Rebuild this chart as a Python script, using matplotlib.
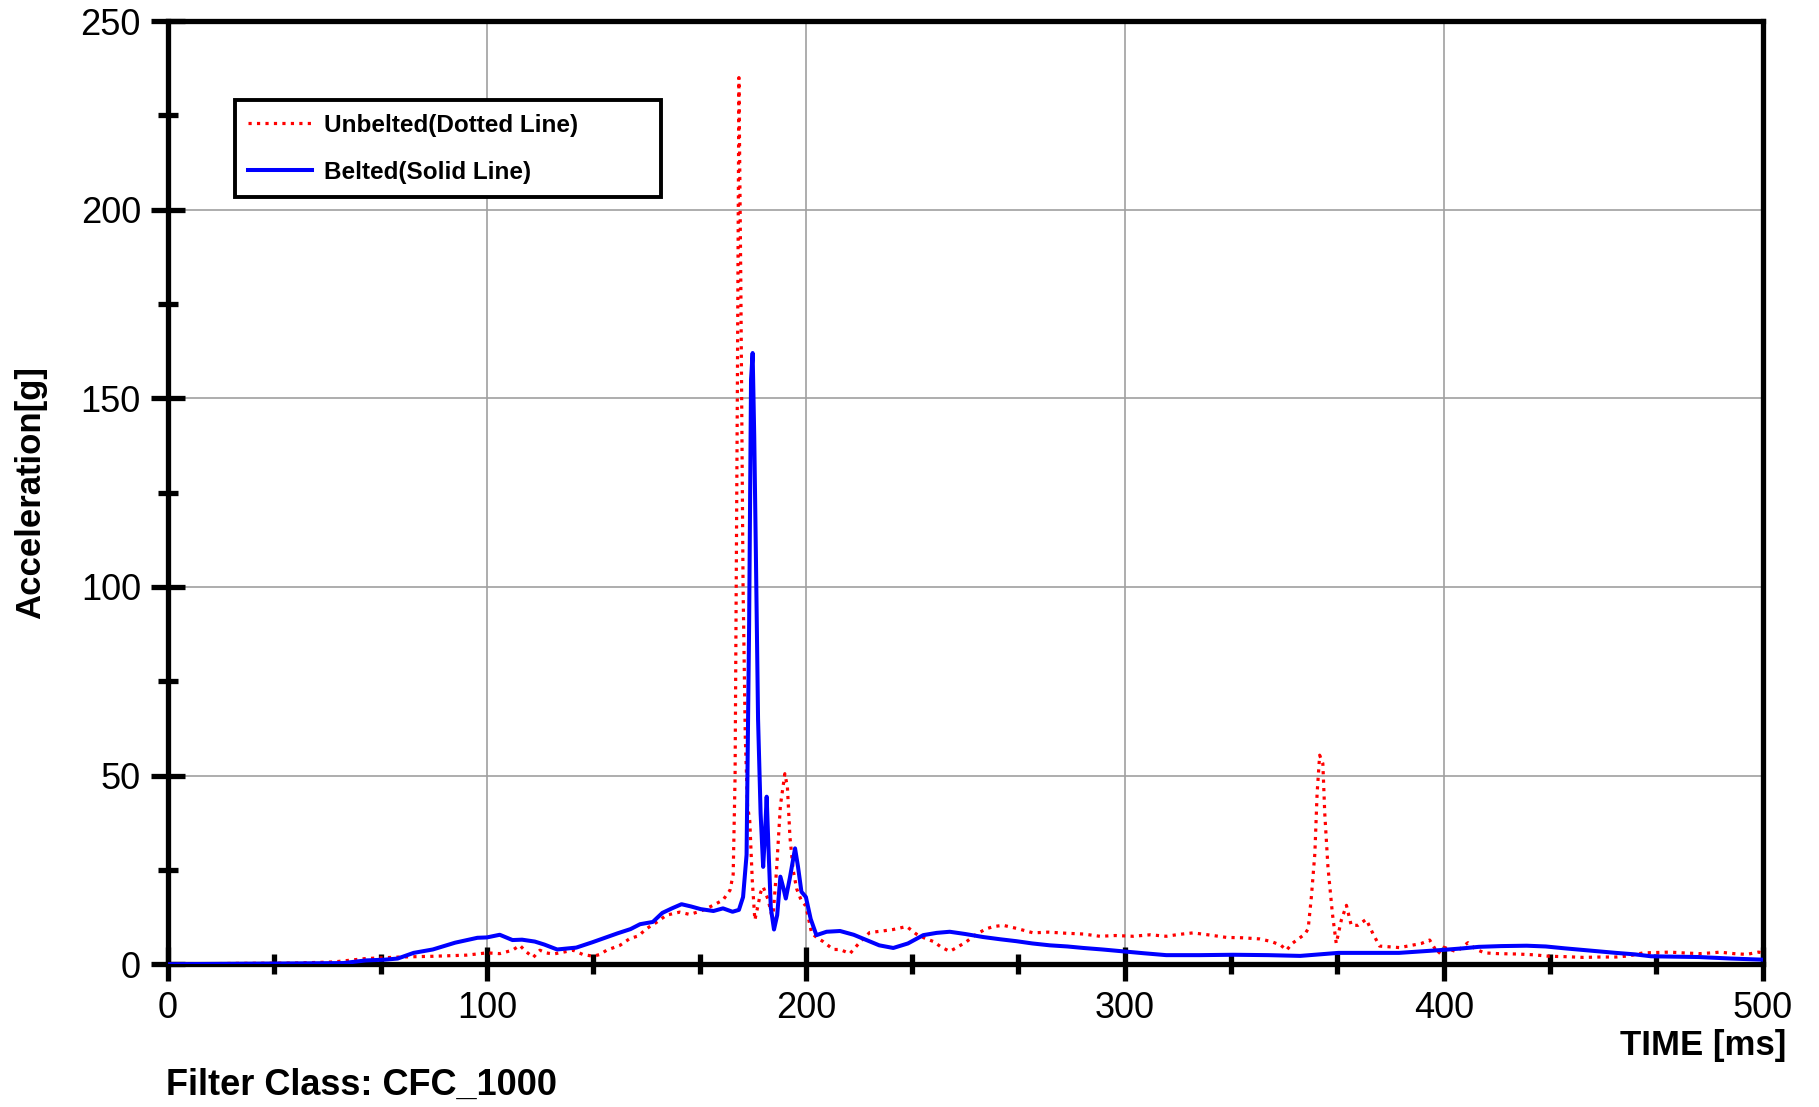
import matplotlib
matplotlib.use("Agg")
import matplotlib.pyplot as plt
from matplotlib.ticker import MultipleLocator

# data (time in ms, acceleration in g)
belted_t = [0, 20, 40, 55, 62, 68, 72, 77, 83, 90,
            97, 100, 104, 108, 111, 115, 118, 122, 128, 133,
            137, 141, 145, 148, 152, 155, 158, 161, 164, 167,
            171, 174, 177, 179, 180.3, 181.4, 182.2, 182.8, 183.3, 183.8,
            184.3, 185, 185.8, 186.6, 187.2, 187.7, 188.3, 189, 190, 191,
            192, 193, 193.7, 195, 196.6, 197.5, 198.6, 200, 201.5, 203.3,
            206.5, 210.7, 215, 219, 223, 227.4, 232, 236.8, 241, 245.1,
            250, 255.6, 261, 266, 271, 276.5, 282, 287, 293, 299.5,
            306, 313, 323.5, 334, 345, 355, 367, 376, 386, 393,
            400, 406, 411, 418, 426, 432, 438, 446, 454, 460,
            465, 472, 480, 490, 500]
belted_v = [0, 0.1, 0.2, 0.3, 1.0, 1.2, 1.5, 3.0, 3.9, 5.7,
            7.0, 7.1, 7.8, 6.4, 6.5, 6.0, 5.2, 3.9, 4.4, 5.8,
            7.0, 8.2, 9.3, 10.6, 11.2, 13.6, 14.8, 15.9, 15.3, 14.6,
            14.1, 14.8, 13.9, 14.4, 17.8, 29, 90, 155, 162, 140,
            110, 65, 40, 25.8, 35, 44.4, 30, 15, 9.2, 13,
            23.2, 20, 17.4, 23, 30.7, 26, 19.2, 17.8, 12, 7.7,
            8.6, 8.8, 7.8, 6.4, 5.0, 4.3, 5.5, 7.7, 8.3, 8.6,
            8.0, 7.2, 6.6, 6.1, 5.5, 5.0, 4.7, 4.3, 3.9, 3.4,
            2.9, 2.4, 2.4, 2.5, 2.4, 2.2, 3.0, 3.0, 3.0, 3.4,
            3.8, 4.2, 4.6, 4.8, 4.9, 4.7, 4.2, 3.6, 3.0, 2.6,
            2.1, 2.0, 1.9, 1.5, 1.2]

unbelted_t = [0, 20, 40, 52, 62, 72.7, 83, 93.6, 100, 104,
              108, 110.3, 112, 114.5, 116.6, 118.5, 120.8, 124, 127, 130,
              133.3, 135.5, 137.5, 141.7, 144.8, 147.5, 150, 153, 156.3, 160.4,
              163.5, 166.8, 169, 172, 174, 176.2, 177.2, 177.8, 178.5, 179,
              179.6, 180.3, 181, 181.7, 182.4, 183.2, 184, 184.9, 185.8, 186.6,
              188.2, 189.6, 190.8, 192, 193.4, 194.2, 195, 196, 197.1, 198.5,
              200, 201.8, 203.5, 205.4, 208.6, 210.7, 213.8, 217.1, 220, 224,
              227.4, 231.6, 234.6, 237, 240, 242.5, 245.1, 247.5, 250.4, 253.5,
              256.6, 259, 261.9, 266, 271.3, 276, 281.7, 287, 292.2, 297,
              302.6, 308, 313, 317, 321.4, 326, 331.9, 337, 342.3, 346,
              349, 350.7, 352.5, 354.9, 356.5, 357.5, 358.5, 359.6, 360.3, 361.1,
              362.1, 362.7, 363.7, 365.1, 366.3, 367.9, 369.5, 371, 373.1, 375.7,
              377.8, 379.9, 383, 386.2, 390, 393, 395.6, 398.2, 400, 404,
              407.6, 410, 412.8, 417, 423, 428, 433.2, 438, 443.7, 449,
              454.1, 458, 462.5, 467, 470.9, 475, 480.3, 484, 486.6, 491,
              495, 498.7, 500]
unbelted_v = [0, 0.2, 0.3, 0.6, 1.5, 1.9, 2.1, 2.4, 3.0, 2.8,
              3.7, 5.0, 3.5, 1.8, 3.7, 3.0, 2.7, 3.2, 3.7, 2.6,
              2.1, 2.6, 3.7, 5.0, 6.8, 7.5, 9.4, 11.0, 13.0, 13.8,
              13.2, 14.0, 14.8, 16.1, 17.0, 19.6, 23.8, 50, 150, 235,
              180, 100, 60, 42, 38, 22, 11.7, 15.2, 19, 20.5,
              17, 11.7, 25, 42, 50.5, 47, 33.7, 25, 20, 17,
              15.4, 8.2, 7.0, 6.0, 3.9, 3.9, 2.8, 6.0, 8.4, 8.8,
              9.2, 10, 8, 7, 6, 4.5, 3.4, 4.5, 6, 8,
              9.4, 10, 10.3, 9.5, 8.3, 8.5, 8.2, 8.0, 7.4, 7.6,
              7.4, 7.8, 7.4, 7.9, 8.3, 7.8, 7.1, 7.0, 6.7, 6.0,
              5.0, 3.7, 5.5, 7.0, 8.0, 9.4, 17.8, 29.4, 45.2, 55.4,
              53.2, 40, 25.8, 13.4, 5.5, 11.7, 15.6, 10.3, 10.3, 11.9,
              8.1, 4.8, 4.6, 4.4, 5.0, 5.5, 6.4, 2.8, 4.5, 3.3,
              5.7, 4.0, 3.0, 2.8, 2.7, 2.5, 2.1, 2.0, 1.8, 1.9,
              1.9, 2.2, 3.0, 3.1, 3.2, 3.0, 2.8, 3.0, 3.2, 2.8,
              2.6, 3.2, 3.0]

labels = ["Unbelted(Dotted Line)", "Belted(Solid Line)"]

plt.rcParams['font.family'] = ['Liberation Sans', 'DejaVu Sans']

fig = plt.figure(figsize=(18.19, 11.07), dpi=100)
ax = fig.add_axes([0.0924, 0.129, 0.8766, 0.852])

# the two curves
ax.plot(unbelted_t, unbelted_v, color='#ff0000', linestyle=':', linewidth=2.3,
        label=labels[0], zorder=3)
ax.plot(belted_t, belted_v, color='#0000ff', linewidth=2.9,
        label=labels[1], zorder=4)

# axes, ticks and grid
ax.set_xlim(0, 500)
ax.set_ylim(0, 250)
ax.xaxis.set_major_locator(MultipleLocator(100))
ax.xaxis.set_minor_locator(MultipleLocator(100 / 3))
ax.yaxis.set_major_locator(MultipleLocator(50))
ax.yaxis.set_minor_locator(MultipleLocator(25))
ax.grid(True, which='major', color='#a0a0a0', linewidth=1.2)
ax.tick_params(which='major', direction='inout', length=25, width=3.8,
               labelsize=26, pad=7)
ax.tick_params(which='minor', direction='inout', length=15, width=3.8)
for s in ax.spines.values():
    s.set_linewidth(3.8)

ax.set_ylabel("Acceleration[g]", fontsize=25, fontweight='bold', labelpad=24)

# text under the plot
fig.text(0.982, 0.056, "TIME [ms]", fontsize=25, fontweight='bold',
         ha='right', va='center')
fig.text(0.091, 0.020, "Filter Class: CFC_1000", fontsize=26,
         fontweight='bold', ha='left', va='center')

leg = ax.legend(loc='upper left', bbox_to_anchor=(0.042, 0.813, 0.267, 0.103),
                mode='expand', fancybox=False, framealpha=1, edgecolor='black',
                prop={'weight': 'bold', 'size': 17.5}, handlelength=2.6,
                handletextpad=0.5, labelspacing=1.0, borderpad=0.55,
                borderaxespad=0)
leg.get_frame().set_linewidth(2.8)

plt.savefig("out.png", dpi=100)
